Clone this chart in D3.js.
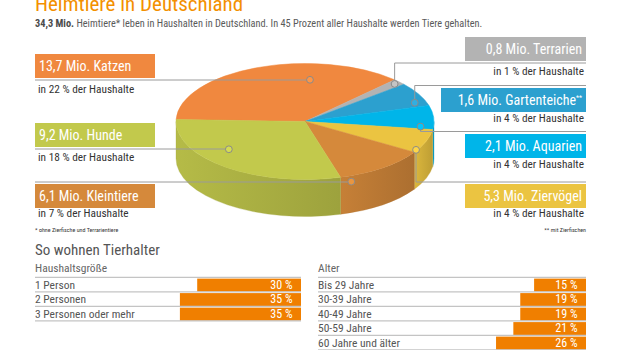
<!DOCTYPE html>
<html><head><meta charset="utf-8">
<script src="https://cdn.jsdelivr.net/npm/d3@7"></script>
<style>
html,body{margin:0;padding:0;background:#fff;}
svg{display:block;}
text{font-family:'Liberation Sans Narrow','Arial Narrow','Roboto Condensed',sans-serif;}
</style></head>
<body><svg id="c" width="620" height="350"></svg>
<script>
// ---------- data ----------
const pets = ["Katzen","Terrarien","Gartenteiche","Aquarien","Ziervögel","Kleintiere","Hunde"];
const petMillions = [13.7, 0.8, 1.6, 2.1, 5.3, 6.1, 9.2];
const householdShare = [22, 1, 4, 4, 4, 7, 18];
const petColors = ["#f0883f","#b3b3b3","#2ca0cf","#00b5e9","#ebc441","#d5893b","#c2c94c"];

const householdSizes = ["1 Person","2 Personen","3 Personen oder mehr"];
const householdSizeShare = [30, 35, 35];
const ageGroups = ["Bis 29 Jahre","30-39 Jahre","40-49 Jahre","50-59 Jahre","60 Jahre und älter"];
const ageShare = [15, 19, 19, 21, 26];

const titleText = "Heimtiere in Deutschland";
const subtitleBold = "34,3 Mio.";
const subtitleRest = " Heimtiere* leben in Haushalten in Deutschland. In 45 Prozent aller Haushalte werden Tiere gehalten.";

// ---------- layout ----------
const svg = d3.select("#c");
const ORANGE = "#f39000";
const GRAY = "#555";
const fmt = v => d3.format(".1f")(v).replace(".", ",");

svg.append("text").attr("x",35).attr("y",10.5).attr("fill",ORANGE)
  .attr("font-size",21).text(titleText);
const sub = svg.append("text").attr("x",35).attr("y",27).attr("fill","#5a5a5a").attr("font-size",10.3);
sub.append("tspan").attr("font-weight","bold").attr("fill","#4a4a4a").text(subtitleBold);
sub.append("tspan").text(subtitleRest);

// ---------- 3D pie ----------
const cx = 305, cy = 121.5, rx = 129, ry = 58, depth = 37;
const P = (a, r=1, dz=0) => [cx + r*rx*Math.sin(a), cy - r*ry*Math.cos(a) + dz];
const pieGen = d3.pie().sort(null).startAngle(-88*Math.PI/180).endAngle(-88*Math.PI/180 + 2*Math.PI);
const arcs = pieGen(householdShare).map((d,i)=>({...d, name:pets[i], color:petColors[i]}));

const defs = svg.append("defs");
arcs.forEach((d,i)=>{
  const g = defs.append("linearGradient").attr("id","side"+i);
  const c = d3.color(d.color);
  g.append("stop").attr("offset","0%").attr("stop-color",c.darker(0.2));
  g.append("stop").attr("offset","100%").attr("stop-color",c.darker(0.6));
});

const pieG = svg.append("g");
// sides (visible front half: angle in [pi/2, 3pi/2])
arcs.forEach((d,i)=>{
  const s = Math.max(d.startAngle, Math.PI/2), e = Math.min(d.endAngle, 3*Math.PI/2);
  if (e <= s) return;
  const p0 = P(s), p1 = P(e);
  const path = `M${p0}A${rx},${ry} 0 0 1 ${p1}L${p1[0]},${p1[1]+depth}A${rx},${ry} 0 0 0 ${p0[0]},${p0[1]+depth}Z`;
  pieG.append("path").attr("d",path).attr("fill",`url(#side${i})`)
    .attr("stroke",d3.color(d.color).darker(0.5)).attr("stroke-width",0.3);
});
// tops
arcs.forEach(d=>{
  const p0 = P(d.startAngle), p1 = P(d.endAngle);
  const large = (d.endAngle - d.startAngle) > Math.PI ? 1 : 0;
  pieG.append("path")
    .attr("d",`M${cx},${cy}L${p0}A${rx},${ry} 0 ${large} 1 ${p1}Z`)
    .attr("fill",d.color).attr("stroke",d.color).attr("stroke-width",0.5);
});

// ---------- labels ----------
// anchor: t = fraction through slice, r = radius fraction, dz = drop onto side
const labelLayout = {
  "Katzen":      {side:"L", boxY:54,  lineY:80,    subY:93,  t:0.69, r:0.72, dz:0},
  "Hunde":       {side:"L", boxY:123, lineY:149,   subY:161, t:0.62, r:0.76, dz:0},
  "Kleintiere":  {side:"L", boxY:184, lineY:182,   subY:217, t:0.88, r:1.0,  dz:6},
  "Terrarien":   {side:"R", boxY:37,  lineY:63,    subY:75,  t:0.5,  r:0.95, dz:0, x0:465},
  "Gartenteiche":{side:"R", boxY:88,  lineY:85.5,  subY:122, t:0.8,  r:0.91, dz:0, x0:441, sup:"**"},
  "Aquarien":    {side:"R", boxY:134, lineY:131.5, subY:168, t:0.9,  r:0.9,  dz:0, x0:465},
  "Ziervögel":   {side:"R", boxY:184, lineY:182,   subY:217, t:0.9,  r:0.99, dz:0, x0:465},
};
const lineColor = "#9a9a9a";
const labG = svg.append("g");
arcs.forEach((d,i)=>{
  const L = labelLayout[d.name];
  const a = d.startAngle + L.t*(d.endAngle - d.startAngle);
  const dot = P(a, L.r, L.dz);
  let pts;
  if (L.side === "L") pts = [[35, L.lineY],[dot[0], L.lineY],dot];
  else pts = [[586, L.lineY],[dot[0], L.lineY],dot];
  labG.append("path").attr("d", d3.line()(pts)).attr("fill","none")
    .attr("stroke",lineColor).attr("stroke-width",1);
  labG.append("circle").attr("cx",dot[0]).attr("cy",dot[1]).attr("r",3.4)
    .attr("fill",d3.color(d.color).brighter(0.25)).attr("stroke","#8a8a8a").attr("stroke-width",1);
  const bx = L.side==="L" ? 35 : L.x0, bw = L.side==="L" ? 120 : 586 - L.x0;
  labG.append("rect").attr("x",bx).attr("y",L.boxY).attr("width",bw).attr("height",24).attr("fill",d.color);
  const t = labG.append("text").attr("y",L.boxY+16.5).attr("fill","#fff").attr("font-size",14);
  if (L.side==="L") t.attr("x",39); else t.attr("x",582).attr("text-anchor","end");
  t.append("tspan").text(`${fmt(petMillions[i])} Mio. ${d.name}`);
  if (L.sup) t.append("tspan").attr("font-size",7).attr("dy",-5).text(L.sup);
  const s = labG.append("text").attr("y",L.subY).attr("fill","#333").attr("font-size",11.3)
    .text(`in ${householdShare[i]} % der Haushalte`);
  if (L.side==="L") s.attr("x",38); else s.attr("x",584).attr("text-anchor","end");
});
svg.append("text").attr("x",35).attr("y",232).attr("font-size",6).attr("fill","#333").text("* ohne Zierfische und Terrarientiere");
svg.append("text").attr("x",586).attr("y",232).attr("font-size",6).attr("fill","#333").attr("text-anchor","end").text("** mit Zierfischen");

// ---------- bottom bars ----------
svg.append("text").attr("x",35).attr("y",255).attr("fill",GRAY).attr("font-size",15).text("So wohnen Tierhalter");
const barScale = d3.scaleLinear().domain([0,100]).range([0,346]);
function barPanel(x0, x1, heading, cats, vals){
  const g = svg.append("g");
  g.append("text").attr("x",x0).attr("y",272).attr("fill","#666").attr("font-size",11.5).text(heading);
  const y = d3.scaleBand().domain(cats).range([277.3, 277.3 + 14.5*cats.length]);
  cats.forEach((c,i)=>{
    const yy = y(c);
    g.append("line").attr("x1",x0).attr("x2",x1).attr("y1",yy).attr("y2",yy).attr("stroke","#c4c4c4").attr("stroke-width",1.2);
    g.append("rect").attr("x",x1 - barScale(vals[i])).attr("y",yy+1.3).attr("width",barScale(vals[i])).attr("height",13).attr("fill","#f07f00");
    g.append("text").attr("x",x0).attr("y",yy+11.5).attr("fill",GRAY).attr("font-size",11.5).text(c);
    g.append("text").attr("x",x1-8.5).attr("y",yy+11.5).attr("fill","#fff").attr("font-size",12).attr("text-anchor","end").text(`${vals[i]} %`);
  });
  const yb = y.range()[1];
  g.append("line").attr("x1",x0).attr("x2",x1).attr("y1",yb).attr("y2",yb).attr("stroke","#c4c4c4").attr("stroke-width",1.2);
}
barPanel(35, 301, "Haushaltsgröße", householdSizes, householdSizeShare);
barPanel(318, 586, "Alter", ageGroups, ageShare);
</script></body></html>
